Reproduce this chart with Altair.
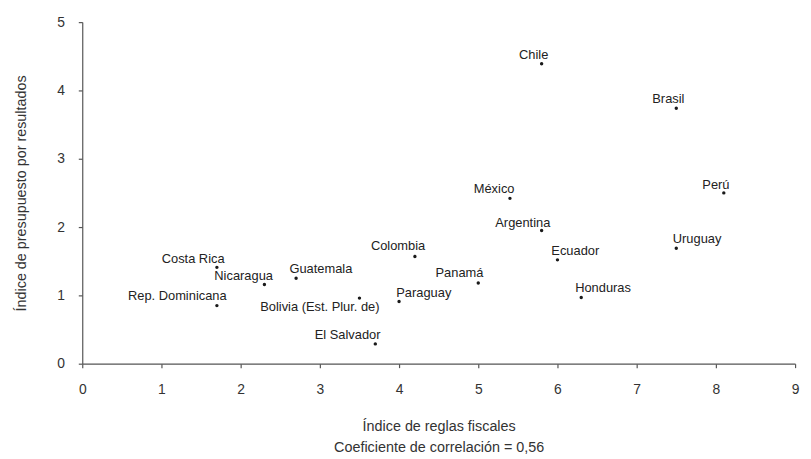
import altair as alt
import pandas as pd

countries = ["Chile", "Brasil", "Perú", "México", "Argentina", "Colombia", "Ecuador",
             "Uruguay", "Honduras", "Panamá", "Paraguay", "Bolivia (Est. Plur. de)",
             "El Salvador", "Guatemala", "Costa Rica", "Nicaragua", "Rep. Dominicana"]
fiscal_rules_index = [5.8, 7.5, 8.1, 5.4, 5.8, 4.2, 6.0, 7.5, 6.3, 5.0, 4.0, 3.5,
                      3.7, 2.7, 1.7, 2.3, 1.7]
results_budget_index = [4.39, 3.74, 2.50, 2.42, 1.95, 1.57, 1.52, 1.69, 0.97, 1.18, 0.91, 0.96,
                        0.29, 1.25, 1.41, 1.16, 0.85]

x_ticks = [0, 1, 2, 3, 4, 5, 6, 7, 8, 9]
y_ticks = [0, 1, 2, 3, 4, 5]

# label placement (pixel offsets of label centre from its point)
label_offsets = {
    "Chile": (-8, -9), "Brasil": (-8, -9), "Perú": (-8, -8), "México": (-16, -9),
    "Argentina": (-19, -8), "Colombia": (-17, -10), "Ecuador": (18, -9),
    "Uruguay": (21, -9), "Honduras": (22, -9), "Panamá": (-19, -10),
    "Paraguay": (25, -9), "Bolivia (Est. Plur. de)": (-40, 9),
    "El Salvador": (-28, -9), "Guatemala": (25, -9), "Costa Rica": (-24, -8),
    "Nicaragua": (-21, -8), "Rep. Dominicana": (-40, -10),
}

df = pd.DataFrame({"pais": countries, "reglas": fiscal_rules_index,
                   "presupuesto": results_budget_index})

FONT = "Liberation Sans"

xscale = alt.Scale(domain=[0, 9], nice=False, zero=True)
yscale = alt.Scale(domain=[0, 5], nice=False, zero=True)

base = alt.Chart(df)

points = base.mark_circle(size=12, color="#1a1a1a", opacity=1).encode(
    x=alt.X("reglas:Q", scale=xscale,
            axis=alt.Axis(values=x_ticks, title=["Índice de reglas fiscales",
                                                  "Coeficiente de correlación = 0,56"],
                          titlePadding=23, labelPadding=15, tickSize=4, format="d",
                          titleLineHeight=22, labelFlush=False)),
    y=alt.Y("presupuesto:Q", scale=yscale,
            axis=alt.Axis(values=y_ticks, title="Índice de presupuesto por resultados",
                          titlePadding=29, labelPadding=14, tickSize=4, format="d")),
)

layers = [points]
for name in countries:
    dx, dy = label_offsets[name]
    layers.append(
        base.transform_filter(alt.datum.pais == name)
        .mark_text(dx=dx, dy=dy, align="center", baseline="middle", fontSize=13,
                   font=FONT, color="#222222")
        .encode(x=alt.X("reglas:Q", scale=xscale), y=alt.Y("presupuesto:Q", scale=yscale),
                text="pais:N")
    )

chart = alt.layer(*layers).properties(
    width=720, height=345,
    autosize=alt.AutoSizeParams(type="none"),
    padding={"left": 75, "top": 12, "right": 8, "bottom": 94},
).configure_view(stroke=None).configure_axis(
    grid=False, domainColor="#555555", tickColor="#555555", labelColor="#333333",
    titleColor="#333333", labelFont=FONT, titleFont=FONT, labelFontSize=14,
    titleFontSize=14.5, titleFontWeight="normal", domainWidth=1.2, tickWidth=1.2,
)

chart.save("out.html", embed_options={"renderer": "svg", "actions": False})
